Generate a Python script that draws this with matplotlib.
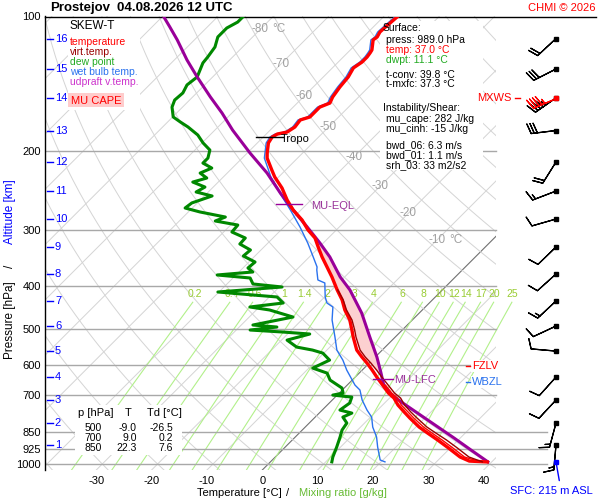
import numpy as np
import matplotlib
matplotlib.use('Agg')
import matplotlib.pyplot as plt
from matplotlib.patches import Rectangle
from matplotlib.ticker import NullLocator

plt.rcParams['font.family'] = ['Liberation Sans', 'DejaVu Sans']

# ---------------- data ----------------
temp_p = [100, 105.5, 108.3, 111.1, 112.8, 118.8, 120.6, 123.2, 126.4, 130.3, 136.5, 143.7,
          151.3, 156.1, 159.4, 167.7, 170.3, 176.6, 181.2, 183.1, 185.9, 191.7, 201.9, 207.2,
          220.3, 228.4, 241.7, 257.1, 270.7, 284.9, 300.0, 312.6, 327.4, 344.6, 362.8, 382.0,
          408.4, 430.0, 452.7, 476.6, 501.9, 520.3, 556.4, 576.8, 594.9, 616.7, 639.3, 666.2,
          694.2, 712.3, 738.5, 765.6, 789.6, 826.9, 852.8, 884.1, 921.2, 964.6, 985, 989.5]
temp_t = [-57.5, -57.8, -57.9, -57.5, -57.7, -56.1, -55.9, -55.7, -55.7, -56.2, -55.5, -55.2,
          -54.7, -54.1, -55.2, -55.2, -56.4, -56.1, -56.6, -58.0, -58.4, -58.0, -56.4, -55.5,
          -52.5, -50.7, -47.4, -44.3, -41.4, -38.0, -35.1, -32.4, -30.2, -27.7, -25.0, -22.3,
          -19.0, -16.3, -14.0, -11.3, -9.1, -7.6, -4.6, -2.4, -0.4, 1.8, 3.9, 6.4,
          8.9, 10.8, 12.8, 15.2, 17.3, 20.6, 23.2, 26.3, 29.7, 33.4, 35.8, 39.2]

virt_p = [408.4, 430.0, 452.7, 476.6, 501.9, 520.3, 556.4, 576.8, 594.9, 616.7, 639.3, 666.2,
          694.2, 712.3, 738.5, 765.6, 789.6, 826.9, 852.8, 884.1, 921.2, 964.6, 989]
virt_t = [-18.9, -16.1, -13.7, -10.9, -8.6, -7.1, -4.0, -1.8, 0.3, 2.6, 4.8, 7.4,
          10.0, 12.0, 14.0, 16.4, 18.6, 22.0, 24.7, 27.9, 31.3, 35.0, 38.3]

aux_p = [666.2, 694.2, 712.3, 738.5, 765.6, 789.6, 826.9, 852.8, 884.1, 921.2, 964.6, 987]
aux_t = [6.9, 9.5, 11.4, 13.4, 15.9, 18.0, 21.4, 24.0, 27.1, 30.5, 34.2, 37.6]

dewp_p = [100, 102.9, 106.1, 111.1, 117.0, 123.2, 127.0, 136.5, 142.2, 148.2, 153.7, 159.4,
          167.7, 172.1, 176.6, 184.0, 191.7, 198.8, 207.2, 212.6, 218.1, 223.8, 229.6, 234.4,
          240.5, 246.7, 251.8, 261.0, 267.9, 273.4, 280.6, 286.4, 292.4, 303.1, 312.6, 322.4,
          332.5, 342.9, 353.7, 364.7, 372.3, 378.1, 384.0, 396.0, 402.2, 412.7, 419.1, 423.4,
          436.7, 445.8, 452.7, 469.4, 489.1, 494.2, 501.9, 507.1, 512.3, 528.6, 547.9, 556.4,
          565.1, 585.9, 610.5, 626.4, 649.3, 676.5, 694.2, 701.4, 708.7, 730.8, 757.7, 769.5,
          785.5, 810.1, 839.8, 870.5, 916.4, 964.6, 989]
dewp_t = [-85.4, -85.4, -86.3, -86.3, -85.0, -84.5, -84.3, -82.8, -83.2, -82.5, -82.7, -81.9,
          -79.9, -77.7, -75.4, -72.2, -69.8, -67.3, -66.2, -66.2, -63.7, -64.9, -62.8, -64.6,
          -61.5, -62.2, -58.6, -61.0, -61.3, -57.9, -52.4, -53.5, -48.7, -48.5, -45.0, -44.9,
          -41.9, -42.1, -38.9, -39.1, -37.5, -43.4, -36.9, -35.3, -29.5, -40.2, -33.3, -28.6,
          -26.4, -31.7, -27.6, -22.1, -27.9, -23.2, -27.5, -21.2, -16.0, -19.0, -16.0, -12.6,
          -10.2, -7.7, -9.3, -5.8, -4.0, -0.4, 0.7, -0.8, 3.0, 3.7, 3.2, 5.9,
          5.0, 6.8, 7.2, 8.1, 9.3, 10.4, 11.1]

wetb_p = [100, 105.5, 108.3, 111.1, 112.8, 118.8, 120.6, 123.2, 126.4, 130.3, 136.5, 143.7,
          151.3, 156.1, 159.4, 167.7, 170.3, 176.6, 181.2, 183.1, 185.9, 191.7, 201.9, 207.2,
          220.3, 228.4, 241.7, 248.0, 270.7, 295.4, 320.8, 344.6, 362.8, 368.5, 387.9, 394.0,
          423.4, 436.7, 445.8, 476.6, 520.3, 556.4, 585.9, 616.7, 649.3, 666.2, 683.5, 719.5,
          757.7, 785.5, 826.9, 870.5, 916.4, 979.6, 989]
wetb_t = [-57.9, -58.2, -58.3, -57.9, -58.1, -56.5, -56.3, -56.1, -56.1, -56.6, -55.9, -55.6,
          -55.1, -54.5, -55.6, -55.6, -56.8, -56.5, -57.0, -58.4, -58.8, -58.4, -56.8, -56.0,
          -53.1, -51.4, -48.2, -46.9, -41.9, -37.1, -32.8, -29.3, -26.8, -26.3, -24.3, -22.5,
          -19.9, -18.5, -16.7, -14.5, -10.9, -8.2, -5.3, -2.8, 0.0, 1.4, 3.2, 5.4,
          8.1, 10.2, 12.2, 14.7, 16.7, 19.5, 20.7]

parcel_p = [100, 105.5, 112.8, 125.1, 136.5, 151.3, 164.3, 179.4, 201.9, 223.8, 248.0, 270.7,
            295.4, 320.8, 344.6, 382.0, 408.4, 459.9, 520.3, 576.8, 622.9, 666.2, 694.2, 723.2,
            789.6, 826.9, 875.0, 930.5, 989]
parcel_t = [-99.8, -96.8, -93.1, -87.7, -82.8, -76.8, -71.8, -66.8, -59.5, -52.8, -46.8, -41.4,
            -35.8, -30.6, -26.3, -20.8, -16.7, -10.4, -4.6, 0.3, 3.7, 6.6, 9.1, 12.4,
            20.0, 24.0, 28.9, 34.1, 39.3]

height_km = [16, 15, 14, 13, 12, 11, 10, 9, 8, 7, 6, 5, 4, 3, 2, 1]
height_p = [112.0, 131.0, 152.0, 179.8, 211.4, 245.5, 283.5, 327.4, 376.2, 432.3, 491.7,
            559.3, 639.3, 719.5, 810.1, 907.0]
wind_dir = [227, 243, 235, 263, 212, 249, 254, 226, 228, 227, 245, 275, 222, 223, 195, 185]
wind_kt = [20, 30, 45, 30, 20, 15, 10, 10, 10, 15, 10, 10, 10, 10, 15, 15]
mxws_p, mxws_dir, mxws_kt = 152.0, 247, 45
sfc_p, sfc_dir = 989.0, 170

pressure_ticks = [100, 200, 300, 400, 500, 600, 700, 850, 925, 1000]
temp_ticks = [-30, -20, -10, 0, 10, 20, 30, 40]
mix_w = [0.2, 0.4, 0.6, 1, 1.4, 2, 3, 4, 6, 8, 10, 12, 14, 17, 20, 25]
mix_labels = ['0.2', '0.4', '0.6', '1', '1.4', '2', '3', '4', '6', '8', '10', '12', '14', '17', '20', '25']
iso_label_t = [-80, -70, -60, -50, -40, -30, -20, -10]

tropo_p, eql_p, lfc_p, fzlv_p, wbzl_p = 186.0, 263.0, 646.0, 604.0, 656.0

surface_info = [('Surface:', 'k', 0), ('press: 989.0 hPa', 'k', 1), ('temp: 37.0 °C', '#ff0000', 1),
                ('dwpt: 11.1 °C', '#22aa22', 1), ('t-conv: 39.8 °C', 'k', 1), ('t-mxfc: 37.3 °C', 'k', 1),
                ('Instability/Shear:', 'k', 0), ('mu_cape: 282 J/kg', 'k', 1), ('mu_cinh: -15 J/kg', 'k', 1),
                ('bwd_06: 6.3 m/s', 'k', 1), ('bwd_01: 1.1 m/s', 'k', 1), ('srh_03: 33 m2/s2', 'k', 1)]
table_p = ['500', '700', '850']
table_t = ['-9.0', '9.0', '22.3']
table_td = ['-26.5', '0.2', '7.6']

# ---------------- geometry ----------------
W, H = 600, 500
P_TOP, P_BOT = 100.0, 1031.3
SKEW = 80.88
X_LEFT, X_RIGHT = -39.27, 60.31
X_CLIP, X_CLIP_LOW = 42.24, 51.4
X_BARB = 53.08


def skew(t, p):
    return np.asarray(t, float) + SKEW * np.log10(P_BOT / np.asarray(p, float))


def prof_x(parr, tarr, p):
    lp = np.log(np.asarray(parr, float))
    order = np.argsort(lp)
    t = np.interp(np.log(p), lp[order], np.asarray(tarr, float)[order])
    return float(skew(t, p))


fig = plt.figure(figsize=(6, 5), dpi=100)
fig.patch.set_facecolor('white')
ax = fig.add_axes([45 / W, 1 - 470 / H, 551 / W, 453.5 / H])
ax.set_yscale('log')
ax.set_ylim(P_BOT, P_TOP)
ax.set_xlim(X_LEFT, X_RIGHT)
ax.yaxis.set_minor_locator(NullLocator())
ax.set_yticks(pressure_ticks)
ax.set_yticklabels([str(v) for v in pressure_ticks])
ax.set_xticks(temp_ticks)
ax.set_xticklabels([str(v) for v in temp_ticks])
ax.tick_params(axis='both', length=0, labelsize=8)
ax.tick_params(axis='x', pad=4)
ax.tick_params(axis='y', pad=3)
for s in ['right', 'bottom']:
    ax.spines[s].set_visible(False)
ax.spines['left'].set_linewidth(1.0)
ax.spines['top'].set_linewidth(1.0)


def clip_rect(xmax):
    return Rectangle((X_LEFT, P_TOP), xmax - X_LEFT, P_BOT - P_TOP,
                     transform=ax.transData, facecolor='none', edgecolor='none')


GRID = '#d4d4d4'
pp = np.logspace(np.log10(P_BOT), np.log10(P_TOP), 150)
# isotherms
for t in range(-140, 60, 10):
    col, lw = (GRID, 0.7) if t != 0 else ('#707070', 0.8)
    ln, = ax.plot(skew([t, t], [P_BOT, P_TOP]), [P_BOT, P_TOP], color=col, lw=lw, zorder=1)
    ln.set_clip_path(clip_rect(X_CLIP))
# dry adiabats
for th in range(-50, 240, 10):
    tt = (th + 273.15) * (pp / 1000.0) ** 0.2857 - 273.15
    ln, = ax.plot(skew(tt, pp), pp, color=GRID, lw=0.7, zorder=1)
    ln.set_clip_path(clip_rect(X_CLIP))
# mixing ratio lines
pm = np.logspace(np.log10(P_BOT), np.log10(435), 40)
for w, lab in zip(mix_w, mix_labels):
    e = w * pm / (622.0 + w)
    le = np.log(e / 6.112)
    td = 243.5 * le / (17.67 - le)
    ax.plot(skew(td, pm), pm, color='#b2f08a', lw=0.8, zorder=1.1)
    e2 = w * 416.0 / (622.0 + w)
    l2 = np.log(e2 / 6.112)
    td2 = 243.5 * l2 / (17.67 - l2)
    ax.text(float(skew(td2, 416.0)) - 0.8, 416.0, lab, color='#99cc33', fontsize=7.5,
            ha='center', va='center', zorder=1.2)
# pressure lines
for p in pressure_ticks[1:]:
    xe = X_CLIP_LOW if p >= 850 else X_CLIP
    ax.plot([X_LEFT, xe], [p, p], color='#a8a8a8', lw=1.0, zorder=1.3)
# isotherm labels on the 366 K adiabat
for t in iso_label_t:
    p = 1000.0 * ((t + 273.15) / 366.0) ** (1 / 0.2857)
    ax.text(float(skew(t, p)), p, str(t), color='#a0a0a0', fontsize=8.5, ha='center',
            va='center', zorder=1.2)
    if t in (-80, -10):
        ax.annotate('°C', xy=(float(skew(t, p)), p), xytext=(8.5, 0), textcoords='offset points',
                    color='#a0a0a0', fontsize=8.5, ha='left', va='center', zorder=1.2)

# white boxes (legend, surface info, table) and labels boxes
def fig_box(x0, y0, x1, y1, fc='white', z=1.5):
    r = Rectangle((x0 / W, 1 - y1 / H), (x1 - x0) / W, (y1 - y0) / H, transform=fig.transFigure,
                  facecolor=fc, edgecolor='none', zorder=z, clip_on=False)
    ax.add_patch(r)

fig_box(68, 18, 140, 110)
fig_box(380, 21, 483, 170)
fig_box(75, 405, 182, 455)
fig_box(68, 93, 124, 107, fc='#ffcccc', z=1.6)

# CAPE fill
pg = np.logspace(np.log10(lfc_p), np.log10(eql_p), 80)
env_p = virt_p + [p for p in temp_p if p < min(virt_p)]
env_t = virt_t + [t for p, t in zip(temp_p, temp_t) if p < min(virt_p)]
xe = np.array([prof_x(env_p, env_t, p) for p in pg])
xp = np.array([prof_x(parcel_p, parcel_t, p) for p in pg])
ax.fill_betweenx(pg, xe, xp, where=xp > xe, color='#fcd0d0', lw=0, zorder=2)

# profiles
ax.plot(skew(dewp_t, dewp_p), dewp_p, color='#008800', lw=2.2, zorder=3)
ax.plot(skew(wetb_t, wetb_p), wetb_p, color='#2a72ee', lw=1.0, zorder=3.2)
ax.plot(skew(parcel_t, parcel_p), parcel_p, color='#990099', lw=2.2, zorder=3.4)
ax.plot(skew(temp_t, temp_p), temp_p, color='#ff0000', lw=2.4, zorder=3.6)
ax.plot(skew(aux_t, aux_p), aux_p, color='#ff0000', lw=1.0, zorder=3.7)
ax.plot(skew(virt_t, virt_p), virt_p, color='#990000', lw=1.0, zorder=3.8)

# level markers
xc = prof_x(temp_p, temp_t, tropo_p)
ax.plot([xc - 2.9, xc + 2.0], [tropo_p, tropo_p], color='k', lw=1, zorder=4)
ax.text(xc + 1.5, tropo_p * 1.01, 'Tropo', fontsize=8, color='k', va='center', ha='left', zorder=4)
xc = prof_x(parcel_p, parcel_t, eql_p)
ax.plot([xc - 2.3, xc + 2.4], [eql_p, eql_p], color='#990099', lw=1, zorder=4)
ax.text(xc + 4.0, eql_p * 1.01, 'MU-EQL', fontsize=8, color='#993399', va='center', ha='left', zorder=4)
xc = prof_x(parcel_p, parcel_t, lfc_p)
ax.plot([xc - 1.7, xc + 1.9], [lfc_p, lfc_p], color='#990099', lw=1, zorder=4)
ax.text(xc + 2.1, lfc_p * 1.005, 'MU-LFC', fontsize=8, color='#993399', va='center', ha='left', zorder=4)

bb = dict(facecolor='white', edgecolor='none', pad=1.0)
ax.plot([36.8, 37.5], [fzlv_p, fzlv_p], color='#ff0000', lw=1, zorder=4)
ax.text(37.9, fzlv_p, 'FZLV', color='#ff0000', fontsize=8, va='center', ha='left', bbox=bb, zorder=3.9)
ax.plot([36.8, 37.5], [wbzl_p, wbzl_p], color='#2a72ee', lw=1, zorder=4)
ax.text(37.9, wbzl_p, 'WBZL', color='#2a72ee', fontsize=8, va='center', ha='left', bbox=bb, zorder=3.9)
ax.text(45.0, mxws_p, 'MXWS', color='#ff0000', fontsize=8, va='center', ha='right', zorder=4)
ax.plot([45.7, 46.6], [mxws_p, mxws_p], color='#ff0000', lw=1, zorder=4)

# altitude labels
yt = ax.get_yaxis_transform()
for km, p in zip(height_km, height_p):
    ax.plot([0.0036, 0.0145], [p, p], transform=yt, color='#0000ff', lw=1, zorder=4)
    ax.text(0.018, p, str(km), transform=yt, color='#0000ff', fontsize=8, va='center', ha='left', zorder=4)

# wind barbs
d = np.radians(wind_dir)
spd = np.asarray(wind_kt, float)
u = -spd * np.sin(d)
v = -spd * np.cos(d)
ax.barbs(np.full(len(height_p), X_BARB), height_p, u, v, length=6, pivot='tip',
         barbcolor='k', flagcolor='k', linewidth=0.9, zorder=5, clip_on=False)
ax.plot(np.full(len(height_p), X_BARB), height_p, 's', color='k', ms=2.5, zorder=5.5, clip_on=False)
dm = np.radians(mxws_dir)
ax.barbs([X_BARB], [mxws_p], [-mxws_kt * np.sin(dm)], [-mxws_kt * np.cos(dm)], length=6,
         pivot='tip', barbcolor='#ff0000', flagcolor='#ff0000', linewidth=0.9, zorder=5.2, clip_on=False)
ax.plot([X_BARB], [mxws_p], 's', color='#ff0000', ms=3, zorder=5.6, clip_on=False)
ds = np.radians(sfc_dir)
L = 13.7
ax.annotate('', xy=(X_BARB, sfc_p), xytext=(L * np.sin(ds), L * np.cos(ds)),
            textcoords='offset points', annotation_clip=False,
            arrowprops=dict(arrowstyle='-', color='#0000ff', lw=1, shrinkA=0, shrinkB=0), zorder=5)
ax.plot([X_BARB], [sfc_p], 's', color='#0000ff', ms=3, zorder=5.6, clip_on=False)

# ---------------- texts ----------------
def ftext(px, py, s, **kw):
    kw.setdefault('va', 'center')
    kw.setdefault('fontsize', 7.5)
    return fig.text(px / W, 1 - py / H, s, **kw)

ftext(50, 8, 'Prostejov', fontsize=9.5, weight='bold')
ftext(117, 8, '04.08.2026 12 UTC', fontsize=9.5, weight='bold')
ftext(596, 8, 'CHMI © 2026', fontsize=8, color='#ff0000', ha='right')

ftext(70, 26, 'SKEW-T', fontsize=8.5, zorder=6)
leg = [('temperature', '#ff0000'), ('virt.temp.', '#990000'), ('dew point', '#22aa22'),
       ('wet bulb temp.', '#2a72ee'), ('udpraft v.temp.', '#cc33cc')]
for i, (s, c) in enumerate(leg):
    ftext(70, 42.3 + 9.9 * i, s, color=c, fontsize=7.5, zorder=6)
ftext(96, 100.5, 'MU CAPE', color='#ff0000', fontsize=8, ha='center', zorder=6)

ys = [27.7, 40, 50, 60, 74.7, 84.3, 108.3, 119.3, 129.3, 145, 154.7, 164.7]
for (s, c, ind), y in zip(surface_info, ys):
    ftext(383 + 3 * ind, y, s, color=c, fontsize=7.5, zorder=6)

ftext(78, 413, 'p [hPa]', fontsize=8, zorder=6)
ftext(128, 413, 'T', fontsize=8, ha='center', zorder=6)
ftext(147, 413, 'Td [°C]', fontsize=8, zorder=6)
for i, (a, b, c) in enumerate(zip(table_p, table_t, table_td)):
    y = 428 + 10 * i
    ftext(93, y, a, ha='center', zorder=6)
    ftext(137, y, b, ha='right', zorder=6)
    ftext(173, y, c, ha='right', zorder=6)

ftext(239, 493, 'Temperature [°C]', fontsize=8, ha='center')
ftext(288, 493, '/', fontsize=8, ha='center')
ftext(343, 493, 'Mixing ratio [g/kg]', fontsize=8, ha='center', color='#66bb33')
ftext(10, 320, 'Pressure [hPa]', fontsize=8.5, ha='center', rotation=90)
ftext(10, 266, '/', fontsize=8.5, ha='center', rotation=90)
ftext(10, 212, 'Altitude [km]', fontsize=8.5, ha='center', rotation=90, color='#0000ff')
ftext(551, 491, 'SFC: 215 m ASL', fontsize=8, ha='center', color='#0000ff')

fig.savefig('out.png', dpi=100, facecolor='white')
